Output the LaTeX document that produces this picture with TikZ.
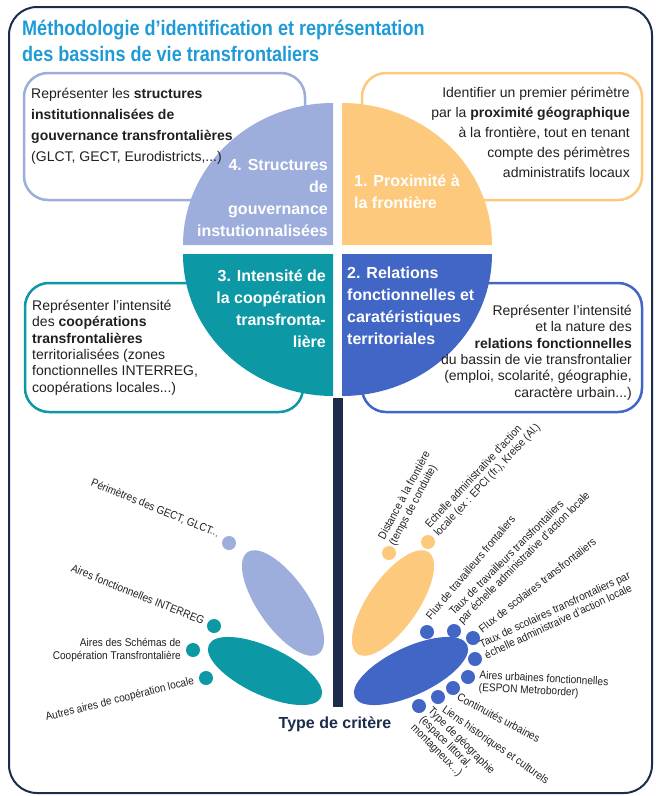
\documentclass[tikz,border=0pt]{standalone}
\usepackage{fontspec}
\setmainfont{Liberation Sans}
\newfontfamily\titlefont{Liberation Sans}[FakeStretch=0.86]
\newfontfamily\narrowfont{Liberation Sans}[FakeStretch=0.9]
\usetikzlibrary{shapes.geometric}

\definecolor{lavGov}{RGB}{157,174,221}
\definecolor{orgProx}{RGB}{253,201,124}
\definecolor{tealCoop}{RGB}{12,152,165}
\definecolor{blueRel}{RGB}{66,102,198}
\definecolor{navyFrame}{RGB}{27,45,75}
\definecolor{titleBlue}{RGB}{30,155,215}
\definecolor{inkText}{RGB}{35,31,32}

\begin{document}
\begin{tikzpicture}[x=1pt, y=-1pt,
	boxline/.style={line width=2.5pt, rounded corners=24pt},
	boxtext/.style={inner sep=0pt, text=inkText, font=\fontsize{14}{16.4}\selectfont},
	quadtext/.style={inner sep=0pt, text=white, font=\bfseries\fontsize{16}{22}\selectfont},
	petal/.style={ellipse, inner sep=0pt, minimum width=124pt, minimum height=50pt},
	dot/.style={circle, inner sep=0pt, minimum size=14pt},
	crit/.style={inner sep=0pt, text=inkText, font=\narrowfont\fontsize{11.2}{12.2}\selectfont}]
		
		\useasboundingbox (0,0) rectangle (656,796);
		
		% Frame and title
		
		\draw[navyFrame, line width=2pt, rounded corners=28pt] (9,7) rectangle (652,793);
		
		\node[anchor=base west, inner sep=0pt, text=titleBlue, font=\titlefont\bfseries\fontsize{21}{26}\selectfont]
		(title1) at (22,35) {Méthodologie d’identification et représentation};
		
		\node[anchor=base west, inner sep=0pt, text=titleBlue, font=\titlefont\bfseries\fontsize{21}{26}\selectfont]
		(title2) at (22,61) {des bassins de vie transfrontaliers};
		
		% Boxes...
		
		\draw[boxline, draw=lavGov] (24,73) rectangle (305,200);
		\draw[boxline, draw=orgProx] (362,73) rectangle (642,200);
		\draw[boxline, draw=tealCoop] (25,283) rectangle (303,412);
		\draw[boxline, draw=blueRel] (362,283) rectangle (642,412);
		
		% Quarters
		
		\fill[lavGov] (333,245) -- (183,245) arc[start angle=180, end angle=270, x radius=150, y radius=142] -- cycle;
		\fill[orgProx] (342,245) -- (342,103) arc[start angle=270, end angle=360, x radius=150, y radius=142] -- cycle;
		\fill[tealCoop] (333,254) -- (333,396) arc[start angle=90, end angle=180, x radius=150, y radius=142] -- cycle;
		\fill[blueRel] (342,254) -- (492,254) arc[start angle=0, end angle=90, x radius=150, y radius=142] -- cycle;
		
		\node[boxtext, font=\fontsize{14}{21}\selectfont, align=left, anchor=west]
		(textGov) at (31,126.5) {Représenter les \textbf{structures}\\\textbf{institutionnalisées de}\\\textbf{gouvernance transfrontalières}\\(GLCT, GECT, Eurodistricts,...)};
		
		\node[boxtext, font=\fontsize{14}{20}\selectfont, align=right, anchor=east]
		(textProx) at (630,132) {Identifier un premier périmètre\\par la \textbf{proximité géographique}\\à la frontière, tout en tenant\\compte des périmètres\\administratifs locaux};
		
		\node[boxtext, align=left, anchor=west]
		(textCoop) at (32,347.5) {Représenter l’intensité\\des \textbf{coopérations}\\\textbf{transfrontalières}\\territorialisées (zones\\fonctionnelles INTERREG,\\coopérations locales...)};
		
		\node[boxtext, align=right, anchor=east]
		(textRel) at (632,352.5) {Représenter l’intensité\\et la nature des\\\textbf{relations fonctionnelles}\\du bassin de vie transfrontalier\\(emploi, scolarité, géographie,\\caractère urbain...)};
		
		\node[quadtext, align=right, anchor=east]
		(quadGov) at (328,197.5) {4. Structures\\de\\gouvernance\\instutionnalisées};
		
		\node[quadtext, align=left, anchor=west]
		(quadProx) at (354,191.5) {1. Proximité à\\la frontière};
		
		\node[quadtext, align=right, anchor=east]
		(quadCoop) at (326,308.5) {3. Intensité de\\la coopération\\transfronta-\\lière};
		
		\node[quadtext, align=left, anchor=west]
		(quadRel) at (347,305.5) {2. Relations\\fonctionnelles et\\caratéristiques\\territoriales};
		
		% Axis
		
		\fill[navyFrame] (332.5,398) rectangle (342.5,707);
		
		\node[inner sep=0pt, text=navyFrame, font=\bfseries\fontsize{16}{18}\selectfont]
		(critType) at (335,724) {Type de critère};
		
		% Petals and dots
		
		\node[petal, fill=lavGov, rotate=-55] (petalGov) at (283,603) {};
		\node[petal, fill=tealCoop, minimum height=48pt, rotate=-25] (petalCoop) at (265,671) {};
		\node[petal, fill=orgProx, rotate=55] (petalProx) at (393,603) {};
		\node[petal, fill=blueRel, minimum height=48pt, rotate=25] (petalRel) at (411,671) {};
		
		\node[dot, fill=lavGov] (dotGov) at (229,543) {};
		
		\node[dot, fill=tealCoop] (dotCoop1) at (214,626) {};
		\node[dot, fill=tealCoop] (dotCoop2) at (193,650) {};
		\node[dot, fill=tealCoop] (dotCoop3) at (206,678) {};
		
		\node[dot, fill=orgProx] (dotProx1) at (389,553) {};
		\node[dot, fill=orgProx] (dotProx2) at (428,542) {};
		
		\node[dot, fill=blueRel] (dotRel1) at (427,632) {};
		\node[dot, fill=blueRel] (dotRel2) at (454,631) {};
		\node[dot, fill=blueRel] (dotRel3) at (473,638) {};
		\node[dot, fill=blueRel] (dotRel4) at (475,659) {};
		\node[dot, fill=blueRel] (dotRel5) at (468,677) {};
		\node[dot, fill=blueRel] (dotRel6) at (453,688) {};
		\node[dot, fill=blueRel] (dotRel7) at (438,697) {};
		\node[dot, fill=blueRel] (dotRel8) at (419,706) {};
		
		% Criteria
		
		\node[crit, rotate=-22, anchor=east] (critGECT) at (219,534) {Périmètres des GECT, GLCT...};
		\node[crit, rotate=-22, anchor=east] (critInterreg) at (204,621) {Aires fonctionnelles INTERREG};
		\node[crit, align=right, anchor=east] (critSchemas) at (181,650) {Aires des Schémas de\\Coopération Transfrontalière};
		\node[crit, rotate=14, anchor=east] (critAutres) at (194,681) {Autres aires de coopération locale};
		
		\node[crit, rotate=62, align=left, anchor=west] (critDist) at (387,542) {Distance à la frontière\\(temps de conduite)};
		\node[crit, rotate=47, align=left, anchor=west] (critEchelle) at (432,531) {Echelle administrative d’action\\locale (ex : EPCI (fr.), Kreise (Al.)};
		\node[crit, rotate=50, anchor=west] (critFluxTrav) at (428,618) {Flux de travailleurs frontaliers};
		\node[crit, rotate=45, align=left, anchor=west] (critTauxTrav) at (456,618) {Taux de travailleurs transfrontaliers\\par échelle administrative d’action locale};
		\node[crit, rotate=38, anchor=west] (critFluxSco) at (480,630) {Flux de scolaires transfrontaliers};
		\node[crit, rotate=25, align=left, anchor=west] (critTauxSco) at (482.5,650) {Taux de scolaires transfrontaliers par\\échelle administraive d’action locale};
		\node[crit, rotate=-3, align=left, anchor=west] (critAires) at (479,682) {Aires urbaines fonctionnelles\\(ESPON Metroborder)};
		\node[crit, rotate=-28, anchor=west] (critContinu) at (458,696) {Continuités urbaines};
		\node[crit, rotate=-35, anchor=west] (critLiens) at (443,709) {Liens historiques et culturels};
		\node[crit, rotate=-45, align=left, anchor=west] (critGeo) at (421,718) {Type de géographie\\(espace littoral,\\montagneux...)};
		
	\end{tikzpicture}
\end{document}
